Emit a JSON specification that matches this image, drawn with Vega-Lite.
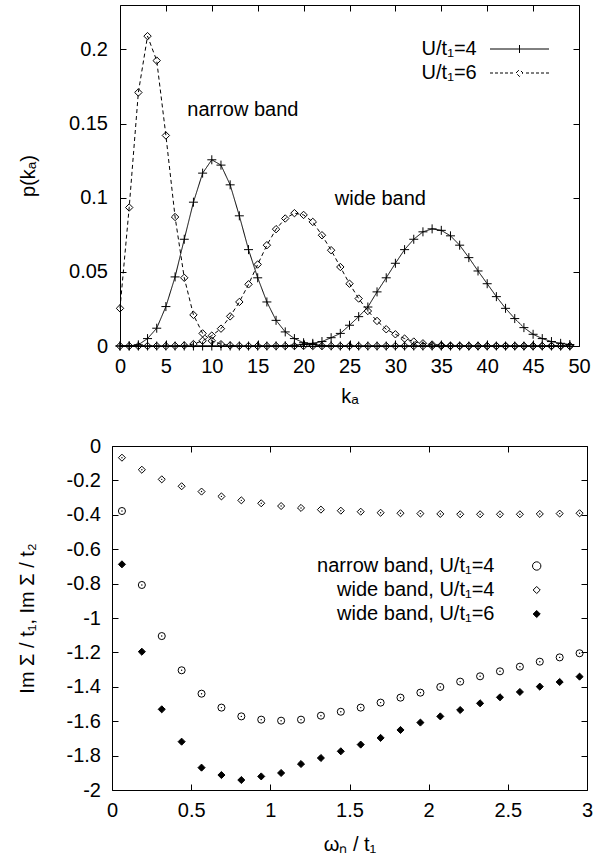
{
"$schema": "https://vega.github.io/schema/vega-lite/v6.json",
"background": "white",
"padding": {"left": 16, "top": 4, "right": 5, "bottom": 0},
"bounds": "flush",
"center": true,
"spacing": 100,
"resolve": {"scale": {"strokeDash": "independent", "shape": "independent", "fill": "independent", "size": "independent"},
            "legend": {"strokeDash": "independent", "shape": "independent", "fill": "independent", "size": "independent"}},
"config": {
  "font": "Liberation Sans",
  "view": {"stroke": "black", "strokeWidth": 1},
  "axis": {"domain": false, "grid": false, "tickSize": -6, "tickColor": "black", "tickWidth": 1,
    "labelFont": "Liberation Sans", "labelFontSize": 20, "labelColor": "black", "labelOverlap": false, "labelFlush": false,
    "titleFont": "Liberation Sans", "titleFontSize": 20, "titleFontWeight": "normal", "titleColor": "black"},
  "legend": {"labelFont": "Liberation Sans", "labelFontSize": 20, "labelColor": "black", "padding": 0, "rowPadding": 4, "labelBaseline": "middle", "labelLimit": 0}
},
"vconcat": [
{
  "width": 459, "height": 341,
  "data": {"values": [
{"k":0,"c":"n4","p":0},{"k":1,"c":"n4","p":0.0001},{"k":2,"c":"n4","p":0.0008},{"k":3,"c":"n4","p":0.005},{"k":4,"c":"n4","p":0.012},{"k":5,"c":"n4","p":0.0266},{"k":6,"c":"n4","p":0.0466},{"k":7,"c":"n4","p":0.072},{"k":8,"c":"n4","p":0.097},{"k":9,"c":"n4","p":0.1166},
{"k":10,"c":"n4","p":0.1256},{"k":11,"c":"n4","p":0.122},{"k":12,"c":"n4","p":0.1087},{"k":13,"c":"n4","p":0.0878},{"k":14,"c":"n4","p":0.065},{"k":15,"c":"n4","p":0.046},{"k":16,"c":"n4","p":0.0297},{"k":17,"c":"n4","p":0.0173},{"k":18,"c":"n4","p":0.0095},{"k":19,"c":"n4","p":0.005},
{"k":20,"c":"n4","p":0.0022},{"k":21,"c":"n4","p":0.001},{"k":22,"c":"n4","p":0.0004},{"k":23,"c":"n4","p":0.0001},{"k":24,"c":"n4","p":0},{"k":25,"c":"n4","p":0},{"k":26,"c":"n4","p":0},{"k":27,"c":"n4","p":0},{"k":28,"c":"n4","p":0},{"k":29,"c":"n4","p":0},
{"k":30,"c":"n4","p":0},{"k":31,"c":"n4","p":0},{"k":32,"c":"n4","p":0},{"k":33,"c":"n4","p":0},{"k":34,"c":"n4","p":0},{"k":35,"c":"n4","p":0},{"k":36,"c":"n4","p":0},{"k":37,"c":"n4","p":0},{"k":38,"c":"n4","p":0},{"k":39,"c":"n4","p":0},
{"k":40,"c":"n4","p":0},{"k":41,"c":"n4","p":0},{"k":42,"c":"n4","p":0},{"k":43,"c":"n4","p":0},{"k":44,"c":"n4","p":0},{"k":45,"c":"n4","p":0},{"k":46,"c":"n4","p":0},{"k":47,"c":"n4","p":0},{"k":48,"c":"n4","p":0},{"k":49,"c":"n4","p":0},
{"k":0,"c":"n6","p":0.0254},{"k":1,"c":"n6","p":0.0934},{"k":2,"c":"n6","p":0.171},{"k":3,"c":"n6","p":0.209},{"k":4,"c":"n6","p":0.1925},{"k":5,"c":"n6","p":0.142},{"k":6,"c":"n6","p":0.087},{"k":7,"c":"n6","p":0.046},{"k":8,"c":"n6","p":0.021},{"k":9,"c":"n6","p":0.0085},
{"k":10,"c":"n6","p":0.0035},{"k":11,"c":"n6","p":0.0012},{"k":12,"c":"n6","p":0.0004},{"k":13,"c":"n6","p":0.0001},{"k":14,"c":"n6","p":0},{"k":15,"c":"n6","p":0},{"k":16,"c":"n6","p":0},{"k":17,"c":"n6","p":0},{"k":18,"c":"n6","p":0},{"k":19,"c":"n6","p":0},
{"k":20,"c":"n6","p":0},{"k":21,"c":"n6","p":0},{"k":22,"c":"n6","p":0},{"k":23,"c":"n6","p":0},{"k":24,"c":"n6","p":0},{"k":25,"c":"n6","p":0},{"k":26,"c":"n6","p":0},{"k":27,"c":"n6","p":0},{"k":28,"c":"n6","p":0},{"k":29,"c":"n6","p":0},
{"k":30,"c":"n6","p":0},{"k":31,"c":"n6","p":0},{"k":32,"c":"n6","p":0},{"k":33,"c":"n6","p":0},{"k":34,"c":"n6","p":0},{"k":35,"c":"n6","p":0},{"k":36,"c":"n6","p":0},{"k":37,"c":"n6","p":0},{"k":38,"c":"n6","p":0},{"k":39,"c":"n6","p":0},
{"k":40,"c":"n6","p":0},{"k":41,"c":"n6","p":0},{"k":42,"c":"n6","p":0},{"k":43,"c":"n6","p":0},{"k":44,"c":"n6","p":0},{"k":45,"c":"n6","p":0},{"k":46,"c":"n6","p":0},{"k":47,"c":"n6","p":0},{"k":48,"c":"n6","p":0},{"k":49,"c":"n6","p":0},
{"k":0,"c":"w4","p":0},{"k":1,"c":"w4","p":0},{"k":2,"c":"w4","p":0},{"k":3,"c":"w4","p":0},{"k":4,"c":"w4","p":0},{"k":5,"c":"w4","p":0},{"k":6,"c":"w4","p":0},{"k":7,"c":"w4","p":0},{"k":8,"c":"w4","p":0},{"k":9,"c":"w4","p":0},
{"k":10,"c":"w4","p":0},{"k":11,"c":"w4","p":0},{"k":12,"c":"w4","p":0},{"k":13,"c":"w4","p":0},{"k":14,"c":"w4","p":0},{"k":15,"c":"w4","p":0},{"k":16,"c":"w4","p":0},{"k":17,"c":"w4","p":0.0001},{"k":18,"c":"w4","p":0.0002},{"k":19,"c":"w4","p":0.0005},
{"k":20,"c":"w4","p":0.001},{"k":21,"c":"w4","p":0.0018},{"k":22,"c":"w4","p":0.003},{"k":23,"c":"w4","p":0.0056},{"k":24,"c":"w4","p":0.0085},{"k":25,"c":"w4","p":0.014},{"k":26,"c":"w4","p":0.0198},{"k":27,"c":"w4","p":0.0263},{"k":28,"c":"w4","p":0.0365},{"k":29,"c":"w4","p":0.046},
{"k":30,"c":"w4","p":0.0558},{"k":31,"c":"w4","p":0.065},{"k":32,"c":"w4","p":0.072},{"k":33,"c":"w4","p":0.077},{"k":34,"c":"w4","p":0.079},{"k":35,"c":"w4","p":0.078},{"k":36,"c":"w4","p":0.0743},{"k":37,"c":"w4","p":0.068},{"k":38,"c":"w4","p":0.0596},{"k":39,"c":"w4","p":0.0506},
{"k":40,"c":"w4","p":0.042},{"k":41,"c":"w4","p":0.0333},{"k":42,"c":"w4","p":0.0254},{"k":43,"c":"w4","p":0.0185},{"k":44,"c":"w4","p":0.0124},{"k":45,"c":"w4","p":0.0079},{"k":46,"c":"w4","p":0.005},{"k":47,"c":"w4","p":0.003},{"k":48,"c":"w4","p":0.0018},{"k":49,"c":"w4","p":0.001},
{"k":0,"c":"w6","p":0},{"k":1,"c":"w6","p":0},{"k":2,"c":"w6","p":0},{"k":3,"c":"w6","p":0},{"k":4,"c":"w6","p":0},{"k":5,"c":"w6","p":0},{"k":6,"c":"w6","p":0.0001},{"k":7,"c":"w6","p":0.0004},{"k":8,"c":"w6","p":0.0013},{"k":9,"c":"w6","p":0.0035},
{"k":10,"c":"w6","p":0.007},{"k":11,"c":"w6","p":0.0117},{"k":12,"c":"w6","p":0.02},{"k":13,"c":"w6","p":0.0297},{"k":14,"c":"w6","p":0.0416},{"k":15,"c":"w6","p":0.055},{"k":16,"c":"w6","p":0.068},{"k":17,"c":"w6","p":0.0788},{"k":18,"c":"w6","p":0.086},{"k":19,"c":"w6","p":0.0896},
{"k":20,"c":"w6","p":0.0884},{"k":21,"c":"w6","p":0.0837},{"k":22,"c":"w6","p":0.0747},{"k":23,"c":"w6","p":0.0646},{"k":24,"c":"w6","p":0.0533},{"k":25,"c":"w6","p":0.042},{"k":26,"c":"w6","p":0.032},{"k":27,"c":"w6","p":0.0236},{"k":28,"c":"w6","p":0.0169},{"k":29,"c":"w6","p":0.0113},
{"k":30,"c":"w6","p":0.0079},{"k":31,"c":"w6","p":0.005},{"k":32,"c":"w6","p":0.003},{"k":33,"c":"w6","p":0.0018},{"k":34,"c":"w6","p":0.001},{"k":35,"c":"w6","p":0.0005},{"k":36,"c":"w6","p":0.0002},{"k":37,"c":"w6","p":0.0001},{"k":38,"c":"w6","p":0},{"k":39,"c":"w6","p":0},
{"k":40,"c":"w6","p":0},{"k":41,"c":"w6","p":0},{"k":42,"c":"w6","p":0},{"k":43,"c":"w6","p":0},{"k":44,"c":"w6","p":0},{"k":45,"c":"w6","p":0},{"k":46,"c":"w6","p":0},{"k":47,"c":"w6","p":0},{"k":48,"c":"w6","p":0},{"k":49,"c":"w6","p":0}
  ]},
  "resolve": {"axis": {"x": "independent", "y": "independent"}},
  "layer": [
    {
      "mark": {"type": "line", "color": "black", "strokeWidth": 1},
      "encoding": {
        "x": {"field": "k", "type": "quantitative", "scale": {"domain": [0, 50], "nice": false},
          "axis": {"values": [0,5,10,15,20,25,30,35,40,45,50], "title": "kₐ", "labelPadding": 16, "titlePadding": 10}},
        "y": {"field": "p", "type": "quantitative", "scale": {"domain": [0, 0.23], "nice": false, "zero": false},
          "axis": {"values": [0,0.05,0.1,0.15,0.2], "labelExpr": "datum.value + ''", "title": "p(kₐ)", "labelPadding": 18.5, "titlePadding": 30}},
        "strokeDash": {"field": "c", "type": "nominal",
          "scale": {"domain": ["n4","n6","w4","w6"], "range": [[1,0],[4,3],[1,0],[4,3]]},
          "legend": {"orient": "none", "legendX": 56.7, "legendY": 34, "title": null, "values": ["n4","n6"],
            "labelExpr": "datum.value == 'n4' ? 'U/t₁=4' : 'U/t₁=6'",
            "symbolSize": 100,
            "encoding": {
              "symbols": {
                "x": {"value": 342.8},
                "shape": {"value": {"expr": "datum.value == 'n4' ? 'M-5.9,0H5.9M0,-0.8V0.8' : 'M-5.9,0H-5.3M-4.9,0H-4.3M-3.9,0H-3.3M-2.9,0H-2.3M-1.9,0H-1.3M1.3,0H1.9M2.3,0H2.9M3.3,0H3.9M4.3,0H4.9M5.3,0H5.9M-0.7,0L0,-0.7L0.7,0L0,0.7Z'"}},
                "strokeDash": {"value": [1,0]},
                "stroke": {"value": "black"},
                "strokeWidth": {"value": 1},
                "fill": {"value": "transparent"}
              },
              "labels": {"x": {"value": 300}, "align": {"value": "right"}}
            }}
        }
      }
    },
    {
      "transform": [{"filter": {"field": "c", "oneOf": ["n4","w4"]}}],
      "mark": {"type": "point", "shape": "M-1,0H1M0,-1V1", "size": 81, "stroke": "black", "strokeWidth": 1, "filled": false, "opacity": 1},
      "encoding": {
        "x": {"field": "k", "type": "quantitative", "axis": {"orient": "top", "labels": false, "title": null, "values": [0,5,10,15,20,25,30,35,40,45,50]}},
        "y": {"field": "p", "type": "quantitative", "axis": {"orient": "right", "labels": false, "title": null, "values": [0,0.05,0.1,0.15,0.2]}}
      }
    },
    {
      "transform": [{"filter": {"field": "c", "oneOf": ["n6","w6"]}}],
      "mark": {"type": "point", "shape": "diamond", "size": 55, "stroke": "black", "strokeWidth": 1, "filled": false, "opacity": 1},
      "encoding": {
        "x": {"field": "k", "type": "quantitative", "axis": null},
        "y": {"field": "p", "type": "quantitative", "axis": null}
      }
    },
    {
      "data": {"values": [{"label": "narrow band"}]},
      "mark": {"type": "text", "align": "left", "baseline": "alphabetic", "fontSize": 20, "font": "Liberation Sans", "color": "black"},
      "encoding": {
        "x": {"datum": 7.33, "type": "quantitative", "axis": null},
        "y": {"datum": 0.1554, "type": "quantitative", "axis": null},
        "text": {"field": "label"}
      }
    },
    {
      "data": {"values": [{"label": "wide band"}]},
      "mark": {"type": "text", "align": "left", "baseline": "alphabetic", "fontSize": 20, "font": "Liberation Sans", "color": "black"},
      "encoding": {
        "x": {"datum": 23.4, "type": "quantitative", "axis": null},
        "y": {"datum": 0.0953, "type": "quantitative", "axis": null},
        "text": {"field": "label"}
      }
    }
  ]
},
{
  "width": 475, "height": 344,
  "data": {"values": [
{"w":0.0628,"s":"nb4","v":-0.378},{"w":0.1885,"s":"nb4","v":-0.808},{"w":0.3142,"s":"nb4","v":-1.105},{"w":0.4398,"s":"nb4","v":-1.304},{"w":0.5655,"s":"nb4","v":-1.44},{"w":0.6912,"s":"nb4","v":-1.521},{"w":0.8168,"s":"nb4","v":-1.572},{"w":0.9425,"s":"nb4","v":-1.591},
{"w":1.0681,"s":"nb4","v":-1.597},{"w":1.1938,"s":"nb4","v":-1.591},{"w":1.3195,"s":"nb4","v":-1.568},{"w":1.4451,"s":"nb4","v":-1.545},{"w":1.5708,"s":"nb4","v":-1.521},{"w":1.6965,"s":"nb4","v":-1.492},{"w":1.8221,"s":"nb4","v":-1.463},{"w":1.9478,"s":"nb4","v":-1.434},
{"w":2.0735,"s":"nb4","v":-1.401},{"w":2.1991,"s":"nb4","v":-1.37},{"w":2.3248,"s":"nb4","v":-1.339},{"w":2.4504,"s":"nb4","v":-1.31},{"w":2.5761,"s":"nb4","v":-1.283},{"w":2.7018,"s":"nb4","v":-1.254},{"w":2.8274,"s":"nb4","v":-1.229},{"w":2.9531,"s":"nb4","v":-1.205},
{"w":0.0628,"s":"wb4","v":-0.068},{"w":0.1885,"s":"wb4","v":-0.138},{"w":0.3142,"s":"wb4","v":-0.194},{"w":0.4398,"s":"wb4","v":-0.234},{"w":0.5655,"s":"wb4","v":-0.265},{"w":0.6912,"s":"wb4","v":-0.293},{"w":0.8168,"s":"wb4","v":-0.316},{"w":0.9425,"s":"wb4","v":-0.333},
{"w":1.0681,"s":"wb4","v":-0.349},{"w":1.1938,"s":"wb4","v":-0.36},{"w":1.3195,"s":"wb4","v":-0.37},{"w":1.4451,"s":"wb4","v":-0.376},{"w":1.5708,"s":"wb4","v":-0.382},{"w":1.6965,"s":"wb4","v":-0.388},{"w":1.8221,"s":"wb4","v":-0.391},{"w":1.9478,"s":"wb4","v":-0.393},
{"w":2.0735,"s":"wb4","v":-0.395},{"w":2.1991,"s":"wb4","v":-0.397},{"w":2.3248,"s":"wb4","v":-0.397},{"w":2.4504,"s":"wb4","v":-0.397},{"w":2.5761,"s":"wb4","v":-0.397},{"w":2.7018,"s":"wb4","v":-0.395},{"w":2.8274,"s":"wb4","v":-0.393},{"w":2.9531,"s":"wb4","v":-0.391},
{"w":0.0628,"s":"wb6","v":-0.688},{"w":0.1885,"s":"wb6","v":-1.196},{"w":0.3142,"s":"wb6","v":-1.531},{"w":0.4398,"s":"wb6","v":-1.719},{"w":0.5655,"s":"wb6","v":-1.87},{"w":0.6912,"s":"wb6","v":-1.913},{"w":0.8168,"s":"wb6","v":-1.942},{"w":0.9425,"s":"wb6","v":-1.921},
{"w":1.0681,"s":"wb6","v":-1.901},{"w":1.1938,"s":"wb6","v":-1.849},{"w":1.3195,"s":"wb6","v":-1.814},{"w":1.4451,"s":"wb6","v":-1.775},{"w":1.5708,"s":"wb6","v":-1.736},{"w":1.6965,"s":"wb6","v":-1.697},{"w":1.8221,"s":"wb6","v":-1.651},{"w":1.9478,"s":"wb6","v":-1.608},
{"w":2.0735,"s":"wb6","v":-1.572},{"w":2.1991,"s":"wb6","v":-1.535},{"w":2.3248,"s":"wb6","v":-1.496},{"w":2.4504,"s":"wb6","v":-1.461},{"w":2.5761,"s":"wb6","v":-1.43},{"w":2.7018,"s":"wb6","v":-1.399},{"w":2.8274,"s":"wb6","v":-1.372},{"w":2.9531,"s":"wb6","v":-1.341}
  ]},
  "resolve": {"axis": {"x": "independent", "y": "independent"}},
  "layer": [
    {
      "mark": {"type": "point", "filled": true, "stroke": "black", "strokeWidth": 1, "opacity": 1},
      "encoding": {
        "x": {"field": "w", "type": "quantitative", "scale": {"domain": [0, 3], "nice": false},
          "axis": {"values": [0,0.5,1,1.5,2,2.5,3], "labelExpr": "datum.value + ''", "title": "ωₙ / t₁", "labelPadding": 16.5, "titlePadding": 14}},
        "y": {"field": "v", "type": "quantitative", "scale": {"domain": [-2, 0], "nice": false},
          "axis": {"values": [-2,-1.8,-1.6,-1.4,-1.2,-1,-0.8,-0.6,-0.4,-0.2,0], "labelExpr": "datum.value + ''", "title": "Im Σ / t₁,  Im Σ / t₂", "labelPadding": 17.5, "titlePadding": 29}},
        "shape": {"field": "s", "type": "nominal", "scale": {"domain": ["nb4","wb4","wb6"], "range": ["circle","diamond","diamond"]},
          "legend": {"orient": "none", "legendX": 82.5, "legendY": 110, "title": null,
            "labelExpr": "datum.value == 'nb4' ? 'narrow band, U/t₁=4' : datum.value == 'wb4' ? 'wide band, U/t₁=4' : 'wide band, U/t₁=6'",
            "encoding": {
              "symbols": {"x": {"value": 342.2}, "stroke": {"value": "black"}, "strokeWidth": {"value": 1},
                "size": {"value": {"expr": "datum.value == 'nb4' ? 70 : 50"}}},
              "labels": {"x": {"value": 300}, "align": {"value": "right"}}
            }}},
        "fill": {"field": "s", "type": "nominal", "scale": {"domain": ["nb4","wb4","wb6"], "range": ["transparent","transparent","black"]},
          "legend": {"orient": "none", "legendX": 82.5, "legendY": 110, "title": null,
            "labelExpr": "datum.value == 'nb4' ? 'narrow band, U/t₁=4' : datum.value == 'wb4' ? 'wide band, U/t₁=4' : 'wide band, U/t₁=6'",
            "encoding": {
              "symbols": {"x": {"value": 342.2}, "stroke": {"value": "black"}, "strokeWidth": {"value": 1},
                "size": {"value": {"expr": "datum.value == 'nb4' ? 70 : 50"}}},
              "labels": {"x": {"value": 300}, "align": {"value": "right"}}
            }}},
        "size": {"field": "s", "type": "nominal", "scale": {"domain": ["wb6","wb4","nb4"], "range": [50, 50, 70]}, "legend": null}
      }
    },
    {
      "transform": [{"filter": {"field": "s", "oneOf": ["nb4","wb4"]}}],
      "mark": {"type": "point", "shape": "circle", "size": 2, "filled": true, "color": "black", "opacity": 1},
      "encoding": {
        "x": {"field": "w", "type": "quantitative", "axis": {"orient": "top", "labels": false, "title": null, "values": [0,0.5,1,1.5,2,2.5,3]}},
        "y": {"field": "v", "type": "quantitative", "axis": {"orient": "right", "labels": false, "title": null, "values": [-2,-1.8,-1.6,-1.4,-1.2,-1,-0.8,-0.6,-0.4,-0.2,0]}}
      }
    }
  ]
}
]
}
